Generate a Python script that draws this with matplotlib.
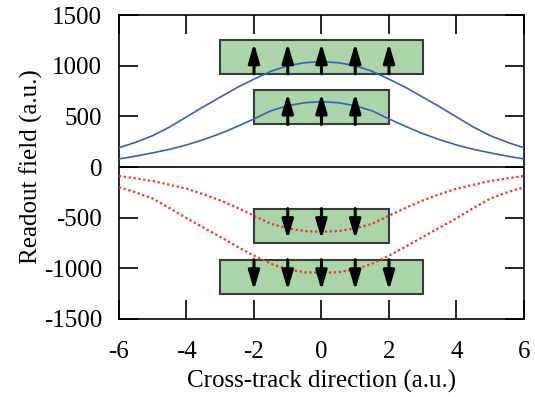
import numpy as np
import matplotlib
matplotlib.use("Agg")
import matplotlib.pyplot as plt
from matplotlib.patches import Rectangle

# readout field profiles
x_pts = [-6, -5.5, -5, -4.5, -4, -3.5, -3, -2.5, -2, -1.5, -1, -0.5, 0,
         0.5, 1, 1.5, 2, 2.5, 3, 3.5, 4, 4.5, 5, 5.5, 6]
up_far = [190, 245, 310, 395, 495, 595, 690, 785, 868, 945, 1000, 1030, 1040,
          1030, 1000, 945, 868, 785, 690, 595, 495, 395, 310, 245, 190]
up_near = [80, 108, 140, 175, 218, 270, 330, 400, 475, 555, 605, 635, 645,
           635, 605, 555, 475, 400, 330, 270, 218, 175, 140, 108, 80]
down_far = [-200, -250, -312, -405, -505, -597, -690, -785, -875, -955, -1010, -1038, -1045,
            -1038, -1010, -955, -875, -785, -690, -597, -505, -405, -312, -250, -200]
down_near = [-88, -112, -138, -175, -214, -268, -330, -402, -480, -560, -605, -632, -640,
             -632, -605, -560, -480, -402, -330, -268, -214, -175, -138, -112, -88]

# magnet boxes: (x0, x1, y0, y1, arrow x positions, direction)
boxes = [
    (-3, 3, 920, 1255, [-2, -1, 0, 1, 2], 1),
    (-2, 2, 420, 760, [-1, 0, 1], 1),
    (-2, 2, -745, -410, [-1, 0, 1], -1),
    (-3, 3, -1250, -915, [-2, -1, 0, 1, 2], -1),
]

plt.rcParams['font.family'] = ['Liberation Serif', 'DejaVu Serif']
plt.rcParams['axes.unicode_minus'] = False

fig = plt.figure(figsize=(5.35, 3.97), dpi=100)
ax = fig.add_axes([0.2224, 0.1965, 0.757, 0.7655])

blue = '#3463bd'
red = '#ff2a2a'
ax.plot(x_pts, up_far, color=blue, lw=1.2, zorder=3)
ax.plot(x_pts, up_near, color=blue, lw=1.2, zorder=3)
ax.plot(x_pts, down_far, color=red, lw=1.6, ls=(0, (1, 1.2)), zorder=3)
ax.plot(x_pts, down_near, color=red, lw=1.6, ls=(0, (1, 1.2)), zorder=3)
ax.axhline(0, color='black', lw=1.2, zorder=1)

for x0, x1, y0, y1, arr_x, d in boxes:
    ax.add_patch(Rectangle((x0, y0), x1 - x0, y1 - y0, facecolor='#a9d5a8',
                           edgecolor='#3a3a3a', lw=1.5, zorder=2))
    for xa in arr_x:
        if d > 0:
            ys, ye = y0, y1 - 35
        else:
            ys, ye = y1, y0 + 35
        ax.annotate('', xy=(xa, ye), xytext=(xa, ys), zorder=4,
                    arrowprops=dict(arrowstyle='-|>,head_length=1.15,head_width=0.34',
                                    color='black', lw=2.2, shrinkA=0, shrinkB=0))

ax.set_xlim(-6, 6)
ax.set_ylim(-1500, 1500)
ax.set_xticks([-6, -4, -2, 0, 2, 4, 6])
ax.set_yticks([-1500, -1000, -500, 0, 500, 1000, 1500])
ax.tick_params(direction='in', length=13.5, width=1.2, top=True, right=True,
               labelsize=18)
ax.tick_params(axis='y', pad=12)
ax.tick_params(axis='x', pad=16)
for s in ax.spines.values():
    s.set_linewidth(1.2)

ax.set_xlabel('Cross-track direction (a.u.)', fontsize=18, labelpad=5)
ax.set_ylabel('Readout field (a.u.)', fontsize=18, labelpad=1)

fig.savefig('out.png', dpi=100)
